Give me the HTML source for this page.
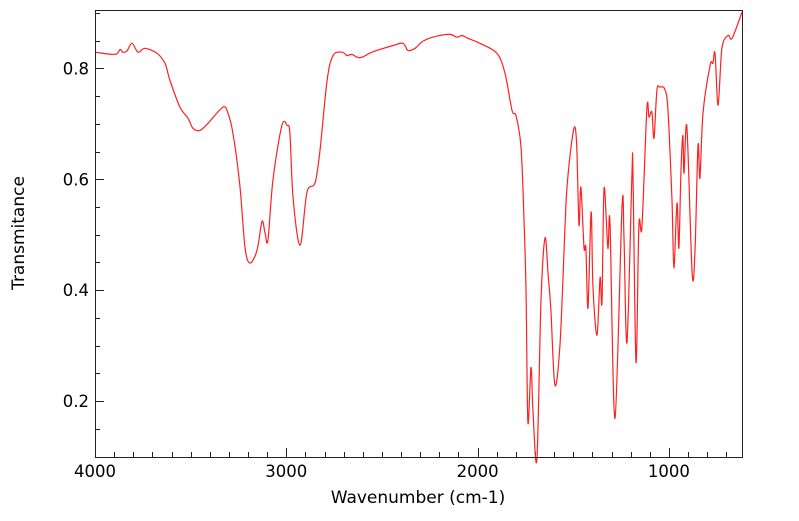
<!DOCTYPE html>
<html><head><meta charset="utf-8"><style>
body{margin:0;background:#fff}
svg text{font-family:"DejaVu Sans","Liberation Sans",sans-serif;fill:#000}
</style></head><body>
<svg id="chart" width="799" height="516" viewBox="0 0 799 516" xmlns="http://www.w3.org/2000/svg">
<g id="ticks"></g>
<path id="spec" fill="none" stroke="#ff2020" stroke-width="1.2" stroke-linejoin="round"/>
<rect x="95.5" y="10.5" width="647" height="447" fill="none" stroke="#222" stroke-width="1"/>
<text x="418" y="503" font-size="17" text-anchor="middle">Wavenumber (cm-1)</text>
<text x="24" y="233" font-size="17" text-anchor="middle" transform="rotate(-90 24 233)">Transmitance</text>
</svg>
<script>
const wavenumbers=[4000,3895,3869,3854,3833,3807,3775,3739,3676,3634,3608,3556,3514,3488,3451,3409,3331,3305,3279,3242,3216,3190,3153,3127,3111,3096,3070,3023,2996,2981,2965,2928,2892,2850,2824,2787,2756,2709,2683,2657,2631,2604,2552,2442,2390,2364,2327,2285,2212,2144,2108,2082,2050,1988,1899,1857,1820,1799,1773,1758,1747,1737,1721,1711,1690,1669,1648,1632,1617,1596,1569,1543,1533,1507,1491,1481,1470,1460,1444,1434,1423,1407,1397,1376,1360,1350,1339,1319,1308,1282,1245,1235,1219,1193,1188,1172,1157,1141,1115,1104,1089,1078,1063,1047,1021,1005,984,974,958,948,937,927,921,906,879,864,848,838,822,785,770,759,743,723,691,670,618];
const transmittance=[0.829,0.825,0.834,0.829,0.831,0.845,0.829,0.836,0.827,0.809,0.778,0.730,0.710,0.692,0.688,0.701,0.730,0.719,0.683,0.586,0.477,0.449,0.472,0.524,0.503,0.490,0.598,0.697,0.697,0.683,0.568,0.481,0.577,0.593,0.652,0.778,0.823,0.829,0.823,0.825,0.820,0.820,0.829,0.841,0.845,0.832,0.836,0.849,0.858,0.861,0.856,0.859,0.854,0.845,0.827,0.791,0.724,0.714,0.658,0.532,0.400,0.162,0.261,0.184,0.095,0.377,0.494,0.431,0.364,0.229,0.305,0.514,0.586,0.670,0.694,0.652,0.517,0.586,0.477,0.476,0.368,0.541,0.405,0.319,0.423,0.378,0.584,0.476,0.521,0.169,0.553,0.494,0.306,0.611,0.607,0.270,0.517,0.514,0.728,0.712,0.721,0.674,0.760,0.766,0.762,0.724,0.562,0.440,0.557,0.476,0.616,0.679,0.611,0.694,0.432,0.467,0.661,0.602,0.719,0.805,0.809,0.827,0.733,0.836,0.859,0.854,0.901];
const xTickLabels=[4000,3000,2000,1000];
const yTickLabels=[0.2,0.4,0.6,0.8];
const X0=95,X1=742,Y0=10,Y1=457,WMAX=4000,WMIN=618,TMIN=0.0995,TMAX=0.905;
function sx(w){return X0+(WMAX-w)/(WMAX-WMIN)*(X1-X0);}
function sy(t){return Y1-(t-TMIN)/(TMAX-TMIN)*(Y1-Y0);}
const NS="http://www.w3.org/2000/svg",svg=document.getElementById('chart'),tg=document.getElementById('ticks');
const P=wavenumbers.map((w,i)=>[sx(w),Math.min(Y1+3,sy(transmittance[i]))]);
let d='M'+P[0][0].toFixed(1)+','+P[0][1].toFixed(1);
const k=0.16;
for(let i=0;i<P.length-1;i++){const p0=P[Math.max(0,i-1)],p1=P[i],p2=P[i+1],p3=P[Math.min(P.length-1,i+2)];
const c1=[p1[0]+(p2[0]-p0[0])*k,p1[1]+(p2[1]-p0[1])*k],c2=[p2[0]-(p3[0]-p1[0])*k,p2[1]-(p3[1]-p1[1])*k];
d+=' C'+c1[0].toFixed(1)+','+c1[1].toFixed(1)+' '+c2[0].toFixed(1)+','+c2[1].toFixed(1)+' '+p2[0].toFixed(1)+','+p2[1].toFixed(1);}
document.getElementById('spec').setAttribute('d',d);
function line(x1,y1,x2,y2){const l=document.createElementNS(NS,'line');l.setAttribute('x1',x1);l.setAttribute('y1',y1);l.setAttribute('x2',x2);l.setAttribute('y2',y2);l.setAttribute('stroke','#222');


tg.appendChild(l);}
for(let w=700;w<=4000;w+=100){const x=Math.round(sx(w))+0.5;const major=w%1000===0;line(x,Y1,x,Y1-(major?9:5));}
for(let j=2;j<=18;j++){const t=j*0.05;const y=Math.round(sy(t))+0.5;const major=j%4===0;line(X0,y,X0+(major?9:5),y);}
xTickLabels.forEach(v=>{const t=document.createElementNS(NS,'text');t.setAttribute('x',sx(v));t.setAttribute('y',477);t.setAttribute('font-size','16.5');t.setAttribute('text-anchor','middle');t.textContent=v;


svg.appendChild(t);});
yTickLabels.forEach(v=>{const t=document.createElementNS(NS,'text');t.setAttribute('x',89);t.setAttribute('y',sy(v)+6);t.setAttribute('font-size','16.5');t.setAttribute('text-anchor','end');t.textContent=v.toFixed(1);


svg.appendChild(t);});
</script>
</body></html>
